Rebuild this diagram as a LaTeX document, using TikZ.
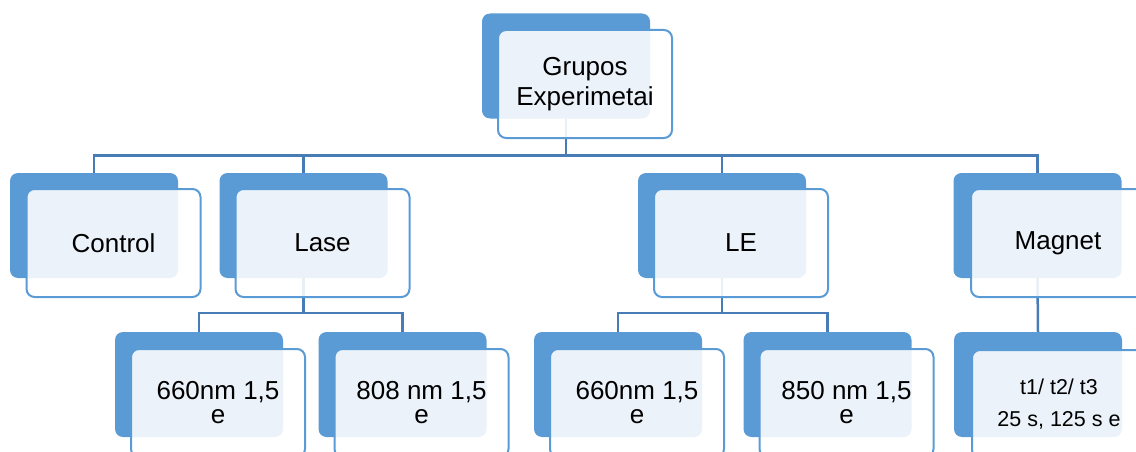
\documentclass[tikz,border=0pt]{standalone}
\usepackage{fontspec}
\setmainfont{Liberation Sans}
\definecolor{accent}{RGB}{91,155,213}
\definecolor{link}{RGB}{72,124,182}
\tikzset{
  backbox/.style={fill=accent, draw=none, rounded corners=8pt,
    minimum width=168pt, minimum height=105pt, inner sep=0pt},
  frontbox/.style={draw=accent, line width=2pt, fill=white, fill opacity=0.88,
    text opacity=1, rounded corners=8pt, minimum width=174pt,
    minimum height=108pt, inner sep=0pt, align=center,
    font=\fontsize{26}{30}\selectfont},
  tightlines/.style={font=\fontsize{26}{24}\selectfont},
  smalllines/.style={font=\fontsize{21.5}{32}\selectfont},
  conn/.style={draw=link, line width=2.5pt}
}
\begin{document}
\begin{tikzpicture}[x=1pt,y=-1pt]
\useasboundingbox (0,0) rectangle (1136,452);

% back plates
\node[backbox] (gb) at (566,66) {};
\node[backbox] (cb) at (94,225.5) {};
\node[backbox] (lb) at (303.5,225.5) {};
\node[backbox] (eb) at (722,225.5) {};
\node[backbox] (mb) at (1037.5,225.5) {};
\node[backbox] (l1b) at (199,384.5) {};
\node[backbox] (l2b) at (402.5,384.5) {};
\node[backbox] (e1b) at (618,384.5) {};
\node[backbox] (e2b) at (827.5,384.5) {};
\node[backbox] (m1b) at (1038,384.5) {};

% connectors
\draw[conn] (gb.south) -- ++(0,37) -| (cb.north);
\draw[conn] (gb.south) -- ++(0,37) -| (lb.north);
\draw[conn] (gb.south) -- ++(0,37) -| (eb.north);
\draw[conn] (gb.south) -- ++(0,37) -| (mb.north);
\draw[conn] (lb.south) -- ++(0,35) -| (l1b.north);
\draw[conn] (lb.south) -- ++(0,35) -| (l2b.north);
\draw[conn] (eb.south) -- ++(0,35) -| (e1b.north);
\draw[conn] (eb.south) -- ++(0,35) -| (e2b.north);
\draw[conn] (mb.south) -- (m1b.north);

% front cards with labels
\node[frontbox] (g) at (585,84) {Grupos\\Experimetai};
\node[frontbox] (c) at (113.5,243) {Control};
\node[frontbox] (l) at (322.5,243) {Lase};
\node[frontbox] (e) at (741,243) {LE};
\node[frontbox] (m) at (1058,243) {Magnet};
\node[frontbox, tightlines] (l1) at (218,403) {660nm 1,5\\e};
\node[frontbox, tightlines] (l2) at (421.5,403) {808 nm 1,5\\e};
\node[frontbox, tightlines] (e1) at (637,403) {660nm 1,5\\e};
\node[frontbox, tightlines] (e2) at (846.5,403) {850 nm 1,5\\e};
\node[frontbox, smalllines] (m1) at (1059,404) {t1/ t2/ t3\\25 s, 125 s e};
\end{tikzpicture}
\end{document}
